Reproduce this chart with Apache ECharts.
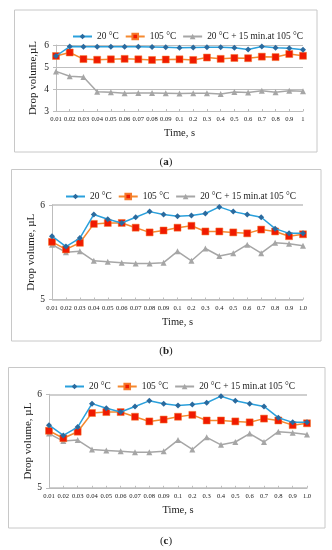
<!DOCTYPE html>
<html><head><meta charset="utf-8">
<script src="https://cdn.jsdelivr.net/npm/echarts@6/dist/echarts.min.js"></script>
<style>html,body{margin:0;padding:0;background:#fff}#c{width:332px;height:550px}</style>
</head><body><div id="c"></div>
<script>
// ---- data ----
const catsA = ['0.01','0.02','0.03','0.04','0.05','0.06','0.07','0.08','0.09','0.1','0.2','0.3','0.4','0.5','0.6','0.7','0.8','0.9','1'];
const catsB = ['0.01','0.02','0.03','0.04','0.05','0.06','0.07','0.08','0.09','0.1','0.2','0.3','0.4','0.5','0.6','0.7','0.8','0.9','1.0'];
const names = ['20 °C','105 °C','20 °C + 15 min.at 105 °C'];
// panel (a)
const a20   = [5.5,5.93,5.92,5.92,5.92,5.92,5.92,5.91,5.9,5.87,5.89,5.9,5.9,5.88,5.8,5.93,5.87,5.85,5.78];
const a105  = [5.5,5.66,5.36,5.33,5.35,5.37,5.35,5.32,5.34,5.35,5.32,5.43,5.37,5.41,5.4,5.47,5.45,5.59,5.51];
const aMix  = [4.8,4.58,4.55,3.88,3.85,3.81,3.82,3.82,3.81,3.8,3.81,3.81,3.77,3.86,3.84,3.92,3.85,3.92,3.9];
// panels (b) and (c)
const b20   = [5.67,5.56,5.65,5.9,5.85,5.81,5.87,5.93,5.9,5.88,5.89,5.91,5.98,5.93,5.9,5.87,5.75,5.7,5.7];
const b105  = [5.61,5.53,5.6,5.8,5.81,5.81,5.76,5.71,5.73,5.76,5.78,5.72,5.72,5.71,5.7,5.74,5.72,5.67,5.69];
const bMix  = [5.58,5.5,5.51,5.41,5.4,5.39,5.38,5.38,5.39,5.51,5.41,5.54,5.46,5.49,5.58,5.49,5.6,5.59,5.57];
const yTicksA = [3,6,1];
const yTicksB = [5,6,1];

const FONT = 'Liberation Serif';
const chart = echarts.init(document.getElementById('c'), null, {renderer:'canvas'});

const grids = [
  {left:56, right:29, top:45, height:66},
  {left:52, right:29, top:205, height:94.5},
  {left:49, right:25, top:394.3, height:93.5}
];
const yTitles = ['Drop volume,µL','Drop volume, µL','Drop volume, µL'];
const xGap = [16.5, 17, 16.5];
const yGap = [17, 15, 15];
const xAxes = [catsA, catsB, catsB].map((c,i)=>({
  type:'category', gridIndex:i, data:c, boundaryGap:false,
  axisLine:{lineStyle:{color:'#bdbdbd',width:1}},
  axisTick:{show:true, alignWithLabel:true, length:2, inside:true, lineStyle:{color:'#bdbdbd'}},
  axisLabel:{interval:0, fontFamily:FONT, fontSize:6.6, color:'#222', margin:5},
  name:'Time, s', nameLocation:'middle', nameGap:xGap[i], nameMoveOverlap:false,
  nameTextStyle:{fontFamily:FONT, fontSize:10.5, color:'#222'}
}));
const yr = [yTicksA, yTicksB, yTicksB];
const yAxes = [0,1,2].map(i=>({
  type:'value', gridIndex:i, min:yr[i][0], max:yr[i][1], interval:yr[i][2],
  axisLine:{show:true, lineStyle:{color:'#bdbdbd'}},
  axisTick:{show:true, length:3, lineStyle:{color:'#bdbdbd'}},
  axisLabel:{fontFamily:FONT, fontSize:9.5, color:'#222', margin:7},
  splitLine:{show:true, lineStyle:{color:'#bfbfbf', width:i===0?1:1.6}},
  name:yTitles[i], nameLocation:'middle', nameGap:yGap[i], nameMoveOverlap:false,
  nameTextStyle:{fontFamily:FONT, fontSize:11, color:'#222'}
}));
function mk(i, n, data){
  const styles = [
    {symbol:'diamond', symbolSize:6, itemStyle:{color:'#2a6a9e'}, lineStyle:{color:'#2aa0dc', width:1.5}},
    {symbol:'rect', symbolSize:7, itemStyle:{color:'#f01a00', borderColor:'#f5792a', borderWidth:0.5}, lineStyle:{color:'#f5892f', width:1.5}},
    {symbol:'triangle', symbolSize:6, itemStyle:{color:'#a6a6a6'}, lineStyle:{color:'#a6a6a6', width:1.5}}
  ][n];
  return Object.assign({type:'line', name:names[n], xAxisIndex:i, yAxisIndex:i, data:data, animation:false, z:5-n}, styles);
}
const series = [
  mk(0,0,a20), mk(0,1,a105), mk(0,2,aMix),
  mk(1,0,b20), mk(1,1,b105), mk(1,2,bMix),
  mk(2,0,b20), mk(2,1,b105), mk(2,2,bMix)
];
const legTops = [27, 187, 377];
const legLefts = [67, 60, 59];
const legends = legTops.map((t,i)=>({
  top:t, left:legLefts[i], data:names, itemWidth:19, itemHeight:7, itemGap:6,
  textStyle:{fontFamily:FONT, fontSize:9.4, color:'#222'}, selectedMode:false
}));
const boxes = [[14.5,10,302.5,142],[11.5,169.5,309.5,171.5],[8.5,367.5,316.5,160.5]];
const labs = [['a',163],['b',352],['c',542]];
const graphic = boxes.map(b=>({type:'rect', shape:{x:b[0],y:b[1],width:b[2],height:b[3]}, style:{fill:'none', stroke:'#c8c8c8', lineWidth:1}, silent:true}))
 .concat(labs.map(l=>({type:'text', left:'center', top:l[1]-6, style:{text:'({b|'+l[0]+'})', rich:{b:{fontWeight:'bold', fontFamily:FONT, fontSize:11, fill:'#222'}}, fontFamily:FONT, fontSize:11, fill:'#222'}})));
chart.setOption({
  backgroundColor:'#fff',
  grid:grids, xAxis:xAxes, yAxis:yAxes, series:series, legend:legends, graphic:graphic
});
</script></body></html>
